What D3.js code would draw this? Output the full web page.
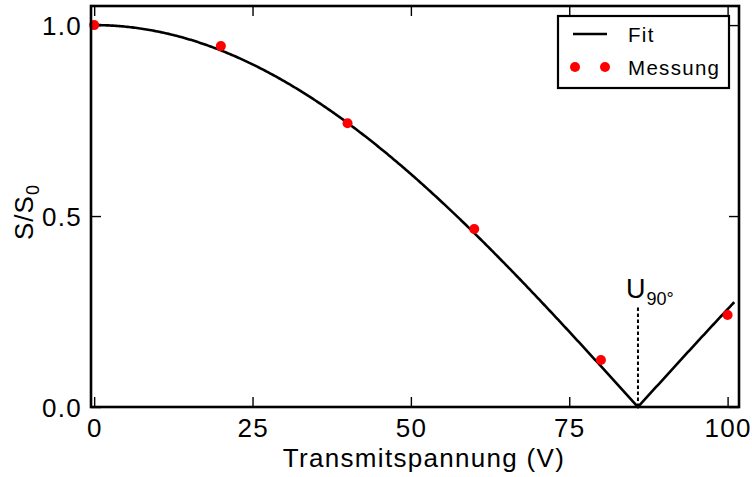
<!DOCTYPE html>
<html>
<head>
<meta charset="utf-8">
<script src="https://cdn.jsdelivr.net/npm/d3@7"></script>
<style>
  html, body { margin: 0; padding: 0; background: #fff; }
  svg { display: block; font-family: "Liberation Sans", Arial, sans-serif; }
</style>
</head>
<body>
<svg id="chart" width="752" height="477"></svg>
<script>
// Measured signal ratio S/S0 versus transmit voltage
const voltages = [0, 20, 40, 60, 80, 100];
const signalRatio = [1.0, 0.945, 0.743, 0.466, 0.123, 0.241];

// Fit model S/S0 = A * |cos(pi/2 * U / U90)|
const fitAmplitude = 1.0;
const fitU90 = 85.85;
const fitStart = 0;
const fitEnd = 101.05;
const u90MarkerHeight = 0.262;

const xTicks = [0, 25, 50, 75, 100];
const yTicks = [0.0, 0.5, 1.0];
const legendLabels = ["Fit", "Messung"];

const svg = d3.select("#chart");
const plot = { left: 91, right: 739, top: 6, bottom: 407 };

const x = d3.scaleLinear().domain([-0.5, 101.8]).range([plot.left, plot.right]);
const y = d3.scaleLinear().domain([0, 1.05]).range([plot.bottom, plot.top]);

const tickFont = 26, tickSpacing = 1.3;

// Ticks pointing inward on all four sides
const tickLen = 10;
const axisBottom = d3.axisBottom(x).tickValues(xTicks).tickSize(-tickLen).tickFormat("");
const axisTop = d3.axisTop(x).tickValues(xTicks).tickSize(-tickLen).tickFormat("");
const axisLeft = d3.axisLeft(y).tickValues(yTicks).tickSize(-tickLen).tickFormat("");
const axisRight = d3.axisRight(y).tickValues(yTicks).tickSize(-tickLen).tickFormat("");

function styleAxis(g) {
  g.select(".domain").remove();
  g.selectAll(".tick line").attr("stroke", "#000").attr("stroke-width", 1.4);
}
svg.append("g").attr("transform", `translate(0,${plot.bottom})`).call(axisBottom).call(styleAxis);
svg.append("g").attr("transform", `translate(0,${plot.top})`).call(axisTop).call(styleAxis);
svg.append("g").attr("transform", `translate(${plot.left},0)`).call(axisLeft).call(styleAxis);
svg.append("g").attr("transform", `translate(${plot.right},0)`).call(axisRight).call(styleAxis);

// Tick labels
svg.append("g").selectAll("text").data(xTicks).join("text")
  .attr("x", d => x(d) + tickSpacing / 2)
  .attr("y", 437)
  .attr("text-anchor", "middle")
  .attr("font-size", tickFont)
  .attr("letter-spacing", tickSpacing)
  .attr("fill", "#000")
  .text(d => d);

svg.append("g").selectAll("text").data(yTicks).join("text")
  .attr("x", 82)
  .attr("y", d => y(d) + 9.5)
  .attr("text-anchor", "end")
  .attr("font-size", tickFont)
  .attr("letter-spacing", tickSpacing)
  .attr("fill", "#000")
  .text(d => d.toFixed(1));

// Axis titles
svg.append("text")
  .attr("x", 424)
  .attr("y", 466.5)
  .attr("text-anchor", "middle")
  .attr("font-size", 26)
  .attr("letter-spacing", 1.3)
  .attr("fill", "#000")
  .text("Transmitspannung (V)");

const yTitle = svg.append("text")
  .attr("transform", "translate(33,240) rotate(-90)")
  .attr("font-size", 26)
  .attr("letter-spacing", 1)
  .attr("fill", "#000");
yTitle.append("tspan").text("S/S");
yTitle.append("tspan").attr("font-size", 18).attr("dy", 6).text("0");

// Fit curve
const fit = u => fitAmplitude * Math.abs(Math.cos(Math.PI / 2 * u / fitU90));
const fitU = d3.range(fitStart, fitEnd, 0.25).concat([fitU90, fitEnd]).sort((a, b) => a - b);
svg.append("path")
  .datum(fitU)
  .attr("fill", "none")
  .attr("stroke", "#000")
  .attr("stroke-width", 2.6)
  .attr("stroke-linejoin", "miter")
  .attr("d", d3.line().x(u => x(u)).y(u => y(fit(u))));

// U90 marker
svg.append("line")
  .attr("x1", x(fitU90)).attr("x2", x(fitU90))
  .attr("y1", y(0)).attr("y2", y(u90MarkerHeight))
  .attr("stroke", "#000")
  .attr("stroke-width", 2)
  .attr("stroke-dasharray", "3.5,2.5");

const u90Label = svg.append("text")
  .attr("x", 626)
  .attr("y", 298)
  .attr("font-size", 27)
  .attr("fill", "#000");
u90Label.append("tspan").text("U");
u90Label.append("tspan").attr("font-size", 18).attr("dy", 7).attr("dx", 1).text("90°");

// Measurement points
svg.append("g").selectAll("circle").data(voltages).join("circle")
  .attr("cx", d => x(d))
  .attr("cy", (d, i) => y(signalRatio[i]))
  .attr("r", 5)
  .attr("fill", "#ff0000");

// Frame
svg.append("rect")
  .attr("x", plot.left).attr("y", plot.top)
  .attr("width", plot.right - plot.left).attr("height", plot.bottom - plot.top)
  .attr("fill", "none")
  .attr("stroke", "#000")
  .attr("stroke-width", 2.6);

// Legend
const legend = svg.append("g");
legend.append("rect")
  .attr("x", 558).attr("y", 16)
  .attr("width", 171).attr("height", 72)
  .attr("fill", "#fff")
  .attr("stroke", "#000")
  .attr("stroke-width", 2.2);
legend.append("line")
  .attr("x1", 573).attr("x2", 607)
  .attr("y1", 34).attr("y2", 34)
  .attr("stroke", "#000").attr("stroke-width", 2.6);
legend.selectAll("circle.key").data([575, 605]).join("circle")
  .attr("class", "key")
  .attr("cx", d => d).attr("cy", 67)
  .attr("r", 5).attr("fill", "#ff0000");
legend.selectAll("text").data(legendLabels).join("text")
  .attr("x", 628)
  .attr("y", (d, i) => 41.5 + i * 33)
  .attr("font-size", 20.5)
  .attr("letter-spacing", 1.3)
  .attr("fill", "#000")
  .text(d => d);
</script>
</body>
</html>
